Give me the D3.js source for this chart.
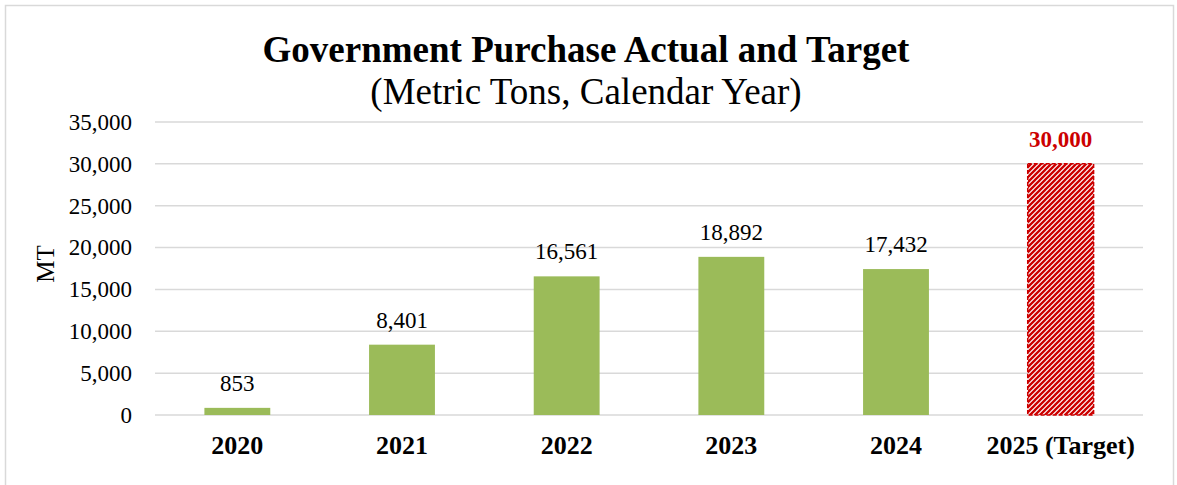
<!DOCTYPE html>
<html>
<head>
<meta charset="utf-8">
<script src="https://cdn.jsdelivr.net/npm/d3@7"></script>
<style>
  body { margin: 0; background: #fff; }
  text { font-family: "Liberation Serif", "Times New Roman", serif; }
</style>
</head>
<body>
<div id="canvas"></div>
<script>
"use strict"

// chart values
let years = ["2020", "2021", "2022", "2023", "2024", "2025 (Target)"];
let tons = [853, 8401, 16561, 18892, 17432, 30000];
let isTarget = [false, false, false, false, false, true];
let yTicks = [0, 5000, 10000, 15000, 20000, 25000, 30000, 35000];

let svgWidth = 1177;
let svgHeight = 485;

let plotLeft = 155, plotRight = 1143;
let plotTop = 122, plotBottom = 415;

let green = "#9bbb59";
let red = "#cc0000";
let grid = "#d9d9d9";

let svg = d3.select("#canvas")
    .append("svg")
    .attr("width", svgWidth)
    .attr("height", svgHeight);

// striped fill for the target bar
let defs = svg.append("defs");
let hatch = defs.append("pattern")
    .attr("id", "hatch")
    .attr("patternUnits", "userSpaceOnUse")
    .attr("width", 5)
    .attr("height", 5);
hatch.append("rect").attr("width", 5).attr("height", 5).attr("fill", "#fff");
hatch.append("path")
    .attr("d", "M0,5 L5,0 M-1,1 L1,-1 M4,6 L6,4")
    .attr("stroke", red)
    .attr("stroke-width", 2.3);

// outer chart border
svg.append("rect")
    .attr("x", 5.5)
    .attr("y", 5.5)
    .attr("width", 1168)
    .attr("height", 500)
    .attr("fill", "none")
    .attr("stroke", grid)
    .attr("stroke-width", 1.5);

let xScale = d3.scaleBand()
    .domain(years)
    .range([plotLeft, plotRight])
    .paddingInner(0.6)
    .paddingOuter(0.3);

let yScale = d3.scaleLinear()
    .domain([0, 35000])
    .range([plotBottom, plotTop]);

// gridlines
svg.append("g")
    .selectAll("line")
    .data(yTicks)
    .join("line")
    .attr("x1", plotLeft)
    .attr("x2", plotRight)
    .attr("y1", d => yScale(d))
    .attr("y2", d => yScale(d))
    .attr("stroke", grid)
    .attr("stroke-width", 1.5);

// y axis labels
let yAxis = svg.append("g")
    .attr("transform", "translate(" + plotLeft + ",0)")
    .call(d3.axisLeft(yScale).tickValues(yTicks).tickFormat(d3.format(",")).tickSize(0).tickPadding(23));
yAxis.select(".domain").remove();
yAxis.selectAll("text")
    .attr("font-family", "Liberation Serif")
    .attr("font-size", 23)
    .attr("fill", "#000");

// x axis labels
let xAxis = svg.append("g")
    .attr("transform", "translate(0," + plotBottom + ")")
    .call(d3.axisBottom(xScale).tickSize(0).tickPadding(0));
xAxis.select(".domain").remove();
xAxis.selectAll("text")
    .attr("font-family", "Liberation Serif")
    .attr("font-size", 26)
    .attr("font-weight", "bold")
    .attr("fill", "#000")
    .attr("dy", null)
    .attr("y", 39);

let rows = years.map((y, i) => ({year: y, value: tons[i], target: isTarget[i]}));

// bars
svg.append("g")
    .selectAll("rect")
    .data(rows)
    .join("rect")
    .attr("x", d => xScale(d.year))
    .attr("width", xScale.bandwidth())
    .attr("y", d => yScale(d.value))
    .attr("height", d => plotBottom - yScale(d.value))
    .attr("fill", d => d.target ? "url(#hatch)" : green)
    .attr("stroke", d => d.target ? red : "none")
    .attr("stroke-dasharray", d => d.target ? "4,2" : null)
    .attr("stroke-width", 1.5);

// value labels
svg.append("g")
    .selectAll("text")
    .data(rows)
    .join("text")
    .attr("x", d => xScale(d.year) + xScale.bandwidth() / 2)
    .attr("y", d => yScale(d.value) - 17)
    .attr("text-anchor", "middle")
    .attr("font-size", 23)
    .attr("font-weight", d => d.target ? "bold" : "normal")
    .attr("fill", d => d.target ? red : "#000")
    .text(d => d3.format(",")(d.value));

// titles
svg.append("text")
    .attr("x", 586)
    .attr("y", 62)
    .attr("text-anchor", "middle")
    .attr("font-size", 37)
    .attr("font-weight", "bold")
    .text("Government Purchase Actual and Target");

svg.append("text")
    .attr("x", 586)
    .attr("y", 104)
    .attr("text-anchor", "middle")
    .attr("font-size", 37)
    .text("(Metric Tons, Calendar Year)");

// y axis title
svg.append("text")
    .attr("transform", "translate(54,264) rotate(-90)")
    .attr("text-anchor", "middle")
    .attr("font-size", 25)
    .text("MT");
</script>
</body>
</html>
